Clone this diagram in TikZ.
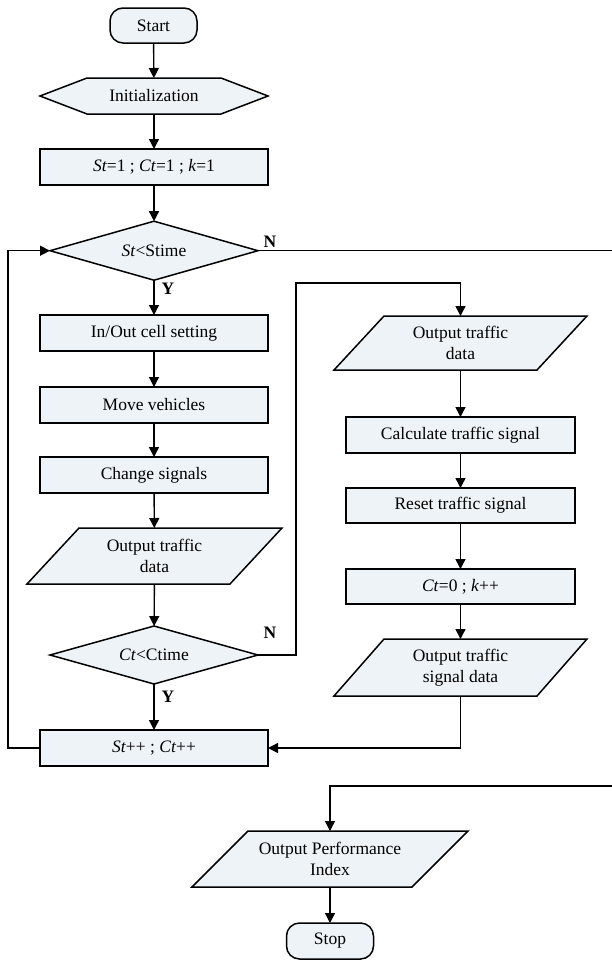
\documentclass[tikz,border=0pt]{standalone}
\usepackage{fontspec}
\setmainfont{Liberation Serif}
\usetikzlibrary{arrows.meta,shapes.geometric,backgrounds,calc}
\definecolor{boxfill}{RGB}{238,243,248}
\begin{document}
\begin{tikzpicture}[x=1pt,y=-1pt,
  every node/.style={font=\fontsize{17.5}{21}\selectfont, inner sep=0pt, outer sep=0pt, align=center},
  stepbox/.style={draw, line width=1.5pt, fill=boxfill, minimum width=228, minimum height=36},
  rstepbox/.style={stepbox, minimum width=229},
  terminal/.style={draw, line width=1.5pt, fill=boxfill, rounded corners=13pt, minimum width=87, minimum height=35},
  decision/.style={draw, diamond, line width=1.5pt, fill=boxfill, aspect=3.5, minimum width=208, minimum height=59},
  ghost/.style={minimum width=#1},
  shapeline/.style={draw, line width=1.5pt, fill=boxfill, line join=miter},
  arr/.style={line width=1.4pt, -{Triangle[length=10pt,width=10pt]}},
  conn/.style={line width=1.4pt},
  lbl/.style={font=\fontsize{17.5}{21}\selectfont\bfseries}
]
\useasboundingbox (0,0) rectangle (612,961);

% left column
\node[terminal] (start) at (153.5,25.5) {Start};
\node[ghost=228, minimum height=36] (init) at (154,96) {Initialization};
\node[stepbox] (set1) at (154,167) {\textit{St}=1 ; \textit{Ct}=1 ; \textit{k}=1};
\node[decision] (dec1) at (154,250.7) {\textit{St}<Stime};
\node[stepbox] (inout) at (154,333) {In/Out cell setting};
\node[stepbox] (move) at (154,405) {Move vehicles};
\node[stepbox] (change) at (154,475) {Change signals};
\node[ghost=203, minimum height=56] (out1) at (154.5,556) {Output traffic\\data};
\node[decision, minimum height=58] (dec2) at (154,655) {\textit{Ct}<Ctime};
\node[stepbox] (inc) at (154,748) {\textit{St}++ ; \textit{Ct}++};

% right column
\node[ghost=203, minimum height=54] (out2) at (460.5,343) {Output traffic\\data};
\node[rstepbox] (calc) at (460.5,435) {Calculate traffic signal};
\node[rstepbox, minimum height=35] (reset) at (460.5,505.5) {Reset traffic signal};
\node[rstepbox, minimum height=35] (ct0) at (460.5,586.5) {\textit{Ct}=0 ; \textit{k}++};
\node[ghost=203, minimum height=57] (out3) at (460.5,667.5) {Output traffic\\signal data};

% bottom
\node[ghost=220, minimum height=56] (out4) at (330,859) {Output Performance\\Index};
\node[terminal, minimum height=36] (stop) at (330,941) {Stop};

% background shapes
\begin{scope}[on background layer]
  \path[shapeline] (init.west) -- ($(init.north west)+(47,0)$) -- ($(init.north east)+(-47,0)$)
    -- (init.east) -- ($(init.south east)+(-47,0)$) -- ($(init.south west)+(47,0)$) -- cycle;
  \path[shapeline] ($(out1.north west)+(26,0)$) -- ($(out1.north east)+(26,0)$)
    -- ($(out1.south east)+(-26,0)$) -- ($(out1.south west)+(-26,0)$) -- cycle;
  \path[shapeline] ($(out2.north west)+(25,0)$) -- ($(out2.north east)+(25,0)$)
    -- ($(out2.south east)+(-25,0)$) -- ($(out2.south west)+(-25,0)$) -- cycle;
  \path[shapeline] ($(out3.north west)+(25,0)$) -- ($(out3.north east)+(25,0)$)
    -- ($(out3.south east)+(-25,0)$) -- ($(out3.south west)+(-25,0)$) -- cycle;
  \path[shapeline] ($(out4.north west)+(28,0)$) -- ($(out4.north east)+(28,0)$)
    -- ($(out4.south east)+(-28,0)$) -- ($(out4.south west)+(-28,0)$) -- cycle;
\end{scope}

% helper coordinates
\coordinate (r1) at (612,250.7);
\coordinate (r2) at (612,786);
\coordinate (c1) at (296,283);
\coordinate (c2) at (8,748);

% connectors
\draw[arr] (start) -- (init);
\draw[arr] (init) -- (set1);
\draw[arr] (set1) -- (dec1);
\draw[conn] (dec1.east) -- (r1);
\draw[arr] (dec1) -- (inout);
\draw[arr] (inout) -- (move);
\draw[arr] (move) -- (change);
\draw[arr] (change) -- (out1);
\draw[arr] (out1) -- (dec2);
\draw[arr] (dec2) -- (inc);
\draw[arr] (dec2.east) -| (c1) -| (out2.north);
\draw[arr] (out2) -- (calc);
\draw[arr] (calc) -- (reset);
\draw[arr] (reset) -- (ct0);
\draw[arr] (ct0) -- (out3);
\draw[arr] (out3.south) |- (inc.east);
\draw[arr] (inc.west) -- (c2) |- (dec1.west);
\draw[arr] (r2) -| (out4.north);
\draw[arr] (out4) -- (stop);

% branch labels
\node[lbl] (n1) at (270,242) {N};
\node[lbl] (y1) at (168,289) {Y};
\node[lbl] (n2) at (270,633) {N};
\node[lbl] (y2) at (168,697) {Y};
\end{tikzpicture}
\end{document}
